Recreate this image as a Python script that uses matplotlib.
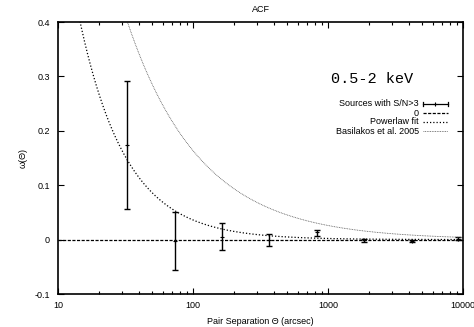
import numpy as np
import matplotlib
matplotlib.use("Agg")
import matplotlib.pyplot as plt
from matplotlib.ticker import LogLocator, NullFormatter

# data
theta = [32.5, 73.6, 164, 365, 824, 1857, 4170, 9180]
w = [0.174, -0.002, 0.004, -0.001, 0.0135, -0.001, -0.003, 0.002]
w_lo = [0.056, -0.056, -0.020, -0.012, 0.007, -0.004, -0.005, 0.000]
w_hi = [0.291, 0.051, 0.030, 0.011, 0.018, 0.002, -0.001, 0.004]
fit_amp, fit_slope = 11.4, 1.25
bas_theta0, bas_slope = 10.4, 0.8
xticks = [10, 100, 1000, 10000]
xticklabels = ["10", "100", "1000", "10000"]
yticks = [-0.1, 0, 0.1, 0.2, 0.3, 0.4]
yticklabels = ["-0.1", "0", "0.1", "0.2", "0.3", "0.4"]
legend_labels = ["Sources with S/N>3", "0", "Powerlaw fit", "Basilakos et al. 2005"]

plt.rcParams['font.family'] = ['Liberation Sans', 'DejaVu Sans']
fig = plt.figure(figsize=(4.74, 3.27), dpi=100)
L, R, T, B = 58, 463, 22, 294
ax = fig.add_axes([L/474, 1-B/327, (R-L)/474, (B-T)/327])

th = np.logspace(1, 4, 400)
w_arr = np.array(w)
yerr = [w_arr - np.array(w_lo), np.array(w_hi) - w_arr]
ax.errorbar(theta, w, yerr=yerr, fmt='none', ecolor='black', elinewidth=1.0,
            capsize=2, capthick=1.0)
ax.plot(theta, w, linestyle='none', marker='+', color='black', ms=3, mew=0.8)
ax.plot(th, np.zeros_like(th), color='black', lw=0.9, ls=(0, (2.5, 1.2)))
ax.plot(th, fit_amp * th ** (-fit_slope), color='black', lw=0.9, ls=(0, (1, 1.6)))
ax.plot(th, (bas_theta0 / th) ** bas_slope, color='#555555', lw=0.6, ls=(0, (1, 1)))

ax.set_xscale('log')
ax.set_xlim(10, 10000)
ax.set_ylim(-0.1, 0.4)
ax.set_xticks(xticks)
ax.set_xticklabels(xticklabels)
ax.xaxis.set_minor_locator(LogLocator(base=10, subs=np.arange(2, 10)))
ax.xaxis.set_minor_formatter(NullFormatter())
ax.set_yticks(yticks)
ax.set_yticklabels(yticklabels)
ax.tick_params(axis='both', which='both', direction='in', top=True, right=True,
               labelsize=6.5)
ax.tick_params(axis='x', pad=5)
ax.tick_params(axis='y', pad=6)
ax.tick_params(which='major', length=4, width=0.8)
ax.tick_params(which='minor', length=2, width=0.8)
for s in ax.spines.values():
    s.set_linewidth(1.2)

ax.set_title("ACF", fontsize=6.5, pad=7)
ax.set_xlabel("Pair Separation \u0398 (arcsec)", fontsize=6.5, labelpad=5)
ax.set_ylabel("\u03c9(\u0398)", fontsize=6.5, labelpad=5)

def ax_x(px):
    return (px - L) / (R - L)

def ax_y(py):
    return (B - py) / (B - T)

ax.text(ax_x(413), ax_y(79), "0.5-2 keV", transform=ax.transAxes, ha='right', va='center',
        fontsize=11, family='Liberation Mono')

# legend
ys = [104, 113, 122, 131]
tx = ax_x(419)
x0 = ax_x(423)
x1 = ax_x(448)
for i, (lab, yp) in enumerate(zip(legend_labels, ys)):
    yy = ax_y(yp)
    ax.text(tx, yy, lab, transform=ax.transAxes, ha='right', va='center', fontsize=6.5)
    if i == 0:
        ax.plot([x0, x1], [yy, yy], transform=ax.transAxes, color='black', lw=0.9)
        for xx in [x0, x1]:
            ax.plot([xx, xx], [yy - 0.008, yy + 0.008], transform=ax.transAxes, color='black', lw=0.9)
        ax.plot([(x0 + x1) / 2], [yy], transform=ax.transAxes, marker='+', color='black', ms=3, mew=0.8)
    elif i == 1:
        ax.plot([x0, x1], [yy, yy], transform=ax.transAxes, color='black', lw=0.9, ls=(0, (2.5, 1.2)))
    elif i == 2:
        ax.plot([x0, x1], [yy, yy], transform=ax.transAxes, color='black', lw=0.9, ls=(0, (1, 1.6)))
    else:
        ax.plot([x0, x1], [yy, yy], transform=ax.transAxes, color='#555555', lw=0.6, ls=(0, (1, 1)))

fig.savefig("out.png", dpi=100)
